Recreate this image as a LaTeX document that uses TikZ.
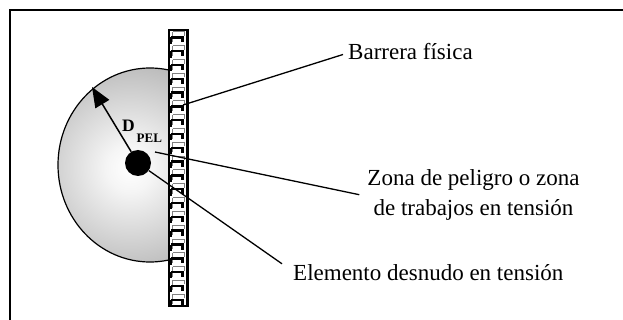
\documentclass[tikz,border=0pt]{standalone}
\usepackage{fontspec}
\setmainfont{Liberation Serif}
\usetikzlibrary{arrows.meta,calc}
\pgfdeclareradialshading{zoneshade}{\pgfpoint{0bp}{0bp}}{color(0bp)=(white); color(5bp)=(white!96!black); color(44bp)=(black!55); color(50bp)=(black!58)}
\tikzset{
  lbl/.style={font=\fontsize{23}{30}\selectfont, inner sep=0pt},
  leader/.style={line width=1.3pt},
  frameline/.style={line width=1.5pt},
  tilegray/.style={draw=black!50, line width=1pt},
  tilehook/.style={line width=2.4pt, line cap=butt},
}
\begin{document}
\begin{tikzpicture}[x=1pt,y=-1pt]
\useasboundingbox (0,0) rectangle (623,320);
% frame (top and left edges visible)
\draw[frameline] (10,320) -- (10,10) -- (623,10);
% danger zone, cut by the barrier
\begin{scope}
  \clip (0,0) rectangle (171,320);
  \begin{scope}
    \clip (150,165) ellipse [x radius=92, y radius=97];
    \shade[shading=zoneshade] (130,168) circle [radius=118];
  \end{scope}
  \draw[line width=1.2pt] (150,165) ellipse [x radius=92, y radius=97];
\end{scope}
% barrier
\fill[white] (169,30) rectangle (188,306);
\foreach \i in {0,...,19}{
  \pgfmathsetmacro\yy{30+13.8*\i}
  \draw[tilegray] (172.5,{\yy+2}) -- (184,{\yy+2}) -- (184,{\yy+6});
  \draw[tilegray] (172.5,{\yy+2}) -- (172.5,{\yy+12});
  \draw[tilehook] (171,{\yy+7.5}) -- (182.5,{\yy+7.5}) -- (182.5,{\yy+12.5});
  \draw[line width=1.6pt] (171,{\yy+7.5}) -- (171,{\yy+13.8});
}
\draw[line width=1.6pt] (169,30) rectangle (188,306);
\draw[line width=1pt] (186.3,30) -- (186.3,306);
% element, arrow and label
\node[circle, fill=black, minimum size=26pt, inner sep=0pt] (dot) at (138,163) {};
\coordinate (tip) at (92,87);
\draw[line width=1.5pt, -{Triangle[length=20pt,width=16pt]}] (dot) -- (tip);
\node[font=\fontsize{17.5}{20}\selectfont\bfseries, anchor=base west, inner sep=0pt] (dlab) at (122,132) {D};
\node[font=\fontsize{13}{15}\selectfont\bfseries, anchor=base west, inner sep=0pt] (pel) at (136.5,143) {PEL};
% labels
\node[lbl, anchor=base west, text height=16pt, text depth=5pt] (lbl1) at (348,60) {Barrera física};
\node[lbl, align=center] (lbl2) at (473.5,194.7) {Zona de peligro o zona\\de trabajos en tensión};
\node[lbl, anchor=base west, text height=16pt, text depth=5pt] (lbl3) at (293,280) {Elemento desnudo en tensión};
% leaders
\coordinate (b1) at (183,105);
\coordinate (z2) at (155,152);
\draw[leader] (b1) -- ([xshift=-5pt]lbl1.west);
\draw[leader] (z2) -- ([xshift=-8pt]lbl2.west);
\draw[leader] (dot) -- ([xshift=-11pt]lbl3.north west);
\end{tikzpicture}
\end{document}
